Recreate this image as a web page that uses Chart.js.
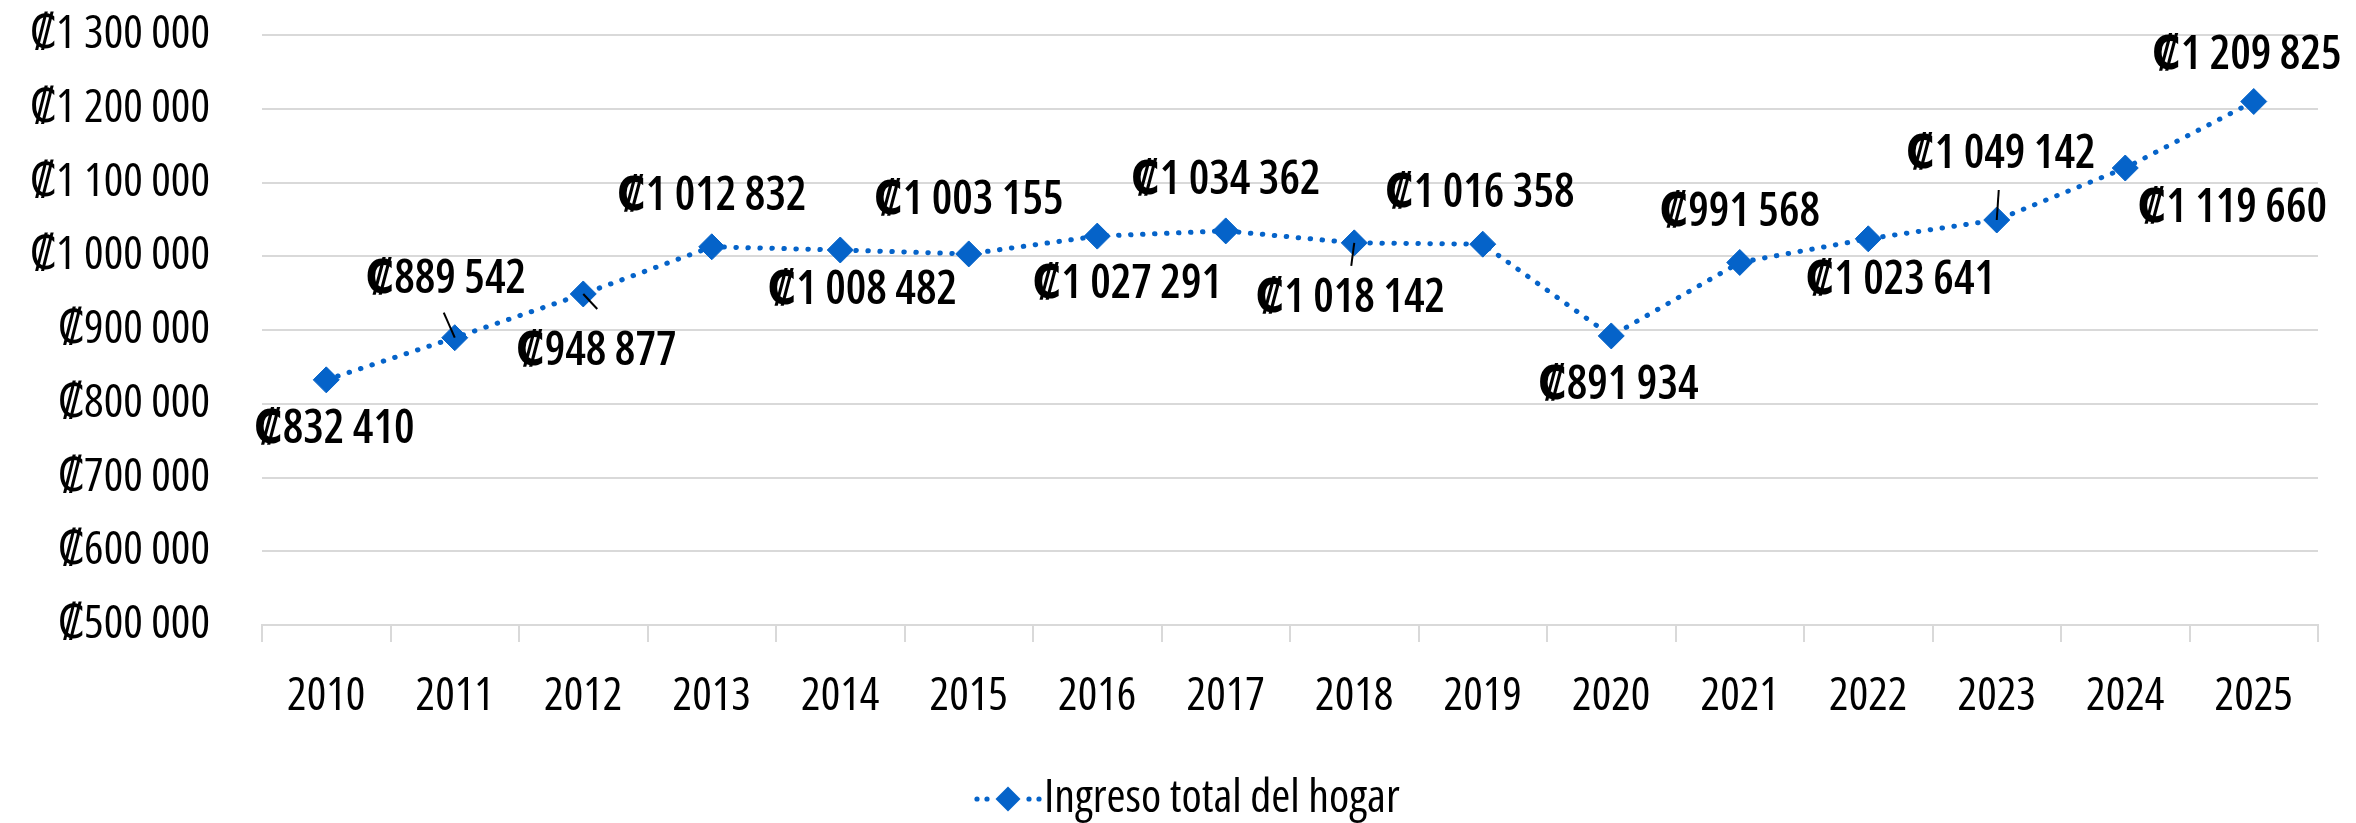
<!DOCTYPE html>
<html>
<head>
<meta charset="utf-8">
<script src="https://cdn.jsdelivr.net/npm/chart.js@4"></script>
<style>
  html, body { margin: 0; padding: 0; background: #ffffff; }
  #wrap { width: 2356px; height: 823px; position: relative; }
</style>
</head>
<body>
<div id="wrap"><canvas id="c"></canvas></div>
<script>
// ---- data ----
const years = ['2010','2011','2012','2013','2014','2015','2016','2017','2018','2019','2020','2021','2022','2023','2024','2025'];
const ingresoTotal = [832410, 889542, 948877, 1012832, 1008482, 1003155, 1027291, 1034362, 1018142, 1016358, 891934, 991568, 1023641, 1049142, 1119660, 1209825];
const yMin = 500000;
const yMax = 1300000;
const yStep = 100000;
const seriesName = 'Ingreso total del hogar';

// ---- styling ----
const BLUE = '#0563C9';
const GRID = '#d9d9d9';

function fmtColon(v) {
  return '\u20A1' + String(Math.round(v)).replace(/\B(?=(\d{3})+(?!\d))/g, ' ');
}

// pick a condensed sans face that is installed (reference uses a condensed humanist face)
const mctx = document.createElement('canvas').getContext('2d');
function tw(font, s) { mctx.font = font; return mctx.measureText(s).width; }
const probe = 'abcdefghijklmnopqrstuvwxyz0123456789ABCDEFG';
function installed(fam) {
  return ['monospace', 'serif'].every(b => Math.abs(tw('46px ' + fam + ', ' + b, probe) - tw('46px ' + b, probe)) > 0.5);
}
const candidates = [
  ['normal', "'Liberation Sans Narrow'"],
  ['normal', "'Noto Sans Condensed'"],
  ['normal', "'Open Sans Condensed'"],
  ['normal', "'Roboto Condensed'"],
  ['normal', "'DejaVu Sans Condensed'"],
  ['normal', "'Noto Sans SemiCondensed'"],
  ['condensed', "'Open Sans'"],
  ['condensed', "'Noto Sans'"],
  ['semi-condensed', "'Open Sans'"],
  ['semi-condensed', "'Noto Sans'"],
  ['normal', "'Roboto'"],
  ['normal', "'Liberation Sans'"]
];
const TARGET_W = 193; // width of "₡1 300 000" in the reference
let FW = 'normal', FAM = "'Liberation Sans'", bestDiff = Infinity, bestW = 230;
candidates.forEach(([wt, fam]) => {
  const base = fam.replace(/'/g, '');
  if (!installed("'" + base + "'")) return;
  if (wt !== 'normal') {
    const wn = tw('46px ' + fam + ', sans-serif', probe);
    const wc = tw(wt + ' 46px ' + fam + ', sans-serif', probe);
    if (wc > wn - 1) return;
  }
  const w = tw((wt === 'normal' ? '' : wt + ' ') + '46px ' + fam + ', sans-serif', fmtColon(1300000));
  const d = Math.abs(w - TARGET_W);
  if (d < bestDiff) { bestDiff = d; FW = wt; FAM = fam; bestW = w; }
});
FAM = FAM + ", 'DejaVu Sans', sans-serif";
let FS = 46;
if (bestW > 205) FS = Math.floor(46 * 205 / bestW);
const STRETCH = FW === 'normal' ? '' : FW + ' ';
const LABELFONT = '600 ' + STRETCH + FS + 'px ' + FAM;

// label placement (pixel offsets from each point), and leader lines
const labelOffsets = [[8,50],[-9,-58],[13,58],[0,-50],[22,41],[0,-53],[30,49],[0,-50],[-4,56],[-3,-50],[7,50],[0,-50],[32,42],[4,-65],[107,41],[-7,-46]];
const leaders = {1: [-11,-25], 2: [14,15], 8: [-3,23], 13: [2,-30]};

// legend geometry: the symbol sits left of the text, text starts at x 1044
const LEG_PAD = 4;
const ICON_LEFT = 972;
const LEG_BOX = 1044 - FS / 2 - LEG_PAD;   // legend box width so text lands at 1044
const legCx = LEG_PAD + LEG_BOX / 2;
const legW = Math.ceil(2 * (ICON_LEFT + 72 - legCx)) + 2;
const legendIcon = document.createElement('canvas');
legendIcon.width = legW; legendIcon.height = 30;
(function(){
  const g = legendIcon.getContext('2d');
  const off = ICON_LEFT - (legCx - legW / 2);
  g.fillStyle = BLUE;
  [5, 15, 57, 67].forEach(x => { g.beginPath(); g.arc(off + x, 15, 2.6, 0, Math.PI*2); g.fill(); });
  const c = off + 36;
  g.beginPath();
  g.moveTo(c - 12.5, 15); g.lineTo(c, 2.5); g.lineTo(c + 12.5, 15); g.lineTo(c, 27.5); g.closePath();
  g.fill();
})();

const dataLabelPlugin = {
  id: 'dataLabels',
  afterDatasetsDraw(chart) {
    const ctx = chart.ctx;
    const meta = chart.getDatasetMeta(0);
    ctx.save();
    ctx.strokeStyle = '#000';
    ctx.lineWidth = 2;
    Object.keys(leaders).forEach(k => {
      const p = meta.data[+k];
      const o = leaders[k];
      ctx.beginPath();
      ctx.moveTo(p.x, p.y);
      ctx.lineTo(p.x + o[0], p.y + o[1]);
      ctx.stroke();
    });
    ctx.font = LABELFONT;
    ctx.fillStyle = '#000';
    ctx.textAlign = 'center';
    ctx.textBaseline = 'middle';
    meta.data.forEach((p, i) => {
      const o = labelOffsets[i];
      ctx.fillText(fmtColon(ingresoTotal[i]), p.x + o[0], p.y + o[1]);
    });
    ctx.restore();
  }
};

Chart.defaults.font.family = FAM;
Chart.defaults.font.size = FS;
Chart.defaults.font.weight = FW;
Chart.defaults.color = '#000';

new Chart(document.getElementById('c'), {
  type: 'line',
  data: {
    labels: years,
    datasets: [{
      label: seriesName,
      data: ingresoTotal,
      borderColor: BLUE,
      backgroundColor: BLUE,
      borderWidth: 5,
      borderDash: [0.5, 11.5],
      borderCapStyle: 'round',
      tension: 0,
      pointStyle: 'rectRot',
      pointRadius: 13,
      pointBorderWidth: 1,
      pointBackgroundColor: BLUE,
      pointBorderColor: BLUE,
      fill: false
    }]
  },
  options: {
    responsive: true,
    maintainAspectRatio: false,
    animation: false,
    events: [],
    layout: { padding: { left: 0, right: 38, top: 35, bottom: -9 } },
    plugins: {
      tooltip: { enabled: false },
      legend: {
        position: 'bottom',
        align: 'start',
        labels: {
          usePointStyle: true,
          pointStyleWidth: LEG_BOX,
          padding: LEG_PAD,
          generateLabels() {
            return [{ text: seriesName, pointStyle: legendIcon, fillStyle: BLUE, strokeStyle: BLUE, lineWidth: 0, datasetIndex: 0, hidden: false }];
          }
        }
      }
    },
    scales: {
      x: {
        offset: true,
        grid: { offset: true, drawOnChartArea: false, color: GRID, lineWidth: 2, tickLength: 17 },
        border: { color: GRID, width: 2 },
        ticks: { padding: 27, maxRotation: 0, autoSkip: false },
        afterFit(scale) { scale.height = 147; }
      },
      y: {
        min: yMin,
        max: yMax,
        border: { display: false },
        grid: { color: GRID, lineWidth: 2, drawTicks: true, tickLength: 52, tickColor: 'rgba(0,0,0,0)' },
        ticks: { stepSize: yStep, padding: 0, callback: v => fmtColon(v) },
        afterFit(scale) { scale.width = 262; }
      }
    }
  },
  plugins: [dataLabelPlugin]
});
</script>
</body>
</html>
